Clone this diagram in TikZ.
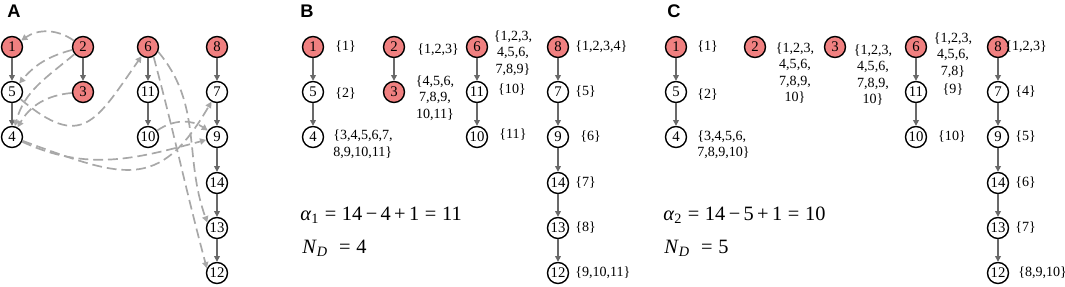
\documentclass[tikz,border=0pt]{standalone}
\usepackage{fontspec}
\setmainfont{Liberation Serif}
\newfontfamily\panelfont{Liberation Sans}
\usetikzlibrary{arrows.meta}
\definecolor{nodered}{RGB}{240,128,128}
\definecolor{treegray}{RGB}{105,105,105}
\definecolor{linkgray}{RGB}{168,168,168}
\tikzset{
  wnode/.style={circle,draw=black,line width=1pt,fill=white,minimum size=5.25mm,inner sep=0pt,font=\fontsize{10.5}{12}\selectfont},
  rnode/.style={wnode,fill=nodered},
  tree/.style={draw=treegray,line width=1.1pt,-{Triangle[length=4pt,width=4pt]}},
  link/.style={draw=linkgray,line width=1.2pt,dash pattern=on 7pt off 3.5pt,-{Triangle[length=4.4pt,width=4.4pt]}},
  lbl/.style={font=\fontsize{10}{11.7}\selectfont,inner sep=0pt,align=center},
  eqn/.style={font=\fontsize{14.5}{17}\selectfont,inner sep=0pt,anchor=west},
  panel/.style={font=\fontsize{13}{15}\selectfont\panelfont\bfseries,inner sep=0pt}
}
\begin{document}
\begin{tikzpicture}[x=0.25mm,y=0.25mm]
\useasboundingbox (0,0) rectangle (1065,-287);
% panel letters
\node[panel] (pa) at (14,-11) {A};
\node[panel] (pb) at (307,-11) {B};
\node[panel] (pc) at (674,-11) {C};

% panel A
\foreach \n/\x/\y in {1/12/47,2/83/47,3/83/92,6/148/47,8/217/47}
  \node[rnode] (a\n) at (\x,-\y) {\n};
\foreach \n/\x/\y in {5/12/92,4/12/137,11/148/92,10/148/137,7/217/92,9/217/137,14/217/183,13/217/228,12/217/273}
  \node[wnode] (a\n) at (\x,-\y) {\n};

% panel B
\foreach \n/\x/\y in {1/313/47,2/394/47,3/394/92,6/477/47,8/558/47}
  \node[rnode] (b\n) at (\x,-\y) {\n};
\foreach \n/\x/\y in {5/313/92,4/313/137,11/477/92,10/477/137,7/558/92,9/558/137,14/558/183,13/558/228,12/558/273}
  \node[wnode] (b\n) at (\x,-\y) {\n};

% panel C
\foreach \n/\x/\y in {1/676/47,2/755/47,3/835/47,6/916/47,8/998/47}
  \node[rnode] (c\n) at (\x,-\y) {\n};
\foreach \n/\x/\y in {5/676/92,4/676/137,11/916/92,10/916/137,7/998/92,9/998/137,14/998/183,13/998/228,12/998/273}
  \node[wnode] (c\n) at (\x,-\y) {\n};

% tree edges
\foreach \p in {a,b,c}
  \foreach \u/\v in {1/5,5/4,6/11,11/10,8/7,7/9,9/14,14/13,13/12}
    \draw[tree] (\p\u) -- (\p\v);
\draw[tree] (a2) -- (a3);
\draw[tree] (b2) -- (b3);

% dashed links in A
\draw[link] (a2) to[out=145,in=35] (a1);
\draw[link] (a2) to[out=195,in=50] (a5);
\draw[link] (a2) to[out=220,in=75] (a4);
\draw[link] (a3) to[out=185,in=60] (a4);
\draw[link] (a5) to[out=-40,in=235,looseness=1.6] (a6);
\draw[link] (a10) to[out=35,in=145] (a9);
\draw[link] (a4) to[out=-25,in=195] (a9);
\draw[link] (a4) to[out=-20,in=240,looseness=1.4] (a7);
\draw[link] (a6.-25) to[out=-50,in=110] (a13.150);
\draw[link] (a6.-60) to[out=-75,in=105] (a12.155);

% labels B
\node[lbl,anchor=west] (lb1) at (335,-47) {\{1\}};
\node[lbl,anchor=west] (lb5) at (335,-94) {\{2\}};
\node[lbl,anchor=west,align=left] (lb4) at (333,-144) {\{3,4,5,6,7,\\8,9,10,11\}};
\node[lbl,anchor=west] (lb2) at (417,-50) {\{1,2,3\}};
\node[lbl] (lb3) at (435,-98) {\{4,5,6,\\7,8,9,\\10,11\}};
\node[lbl] (lb6) at (513,-53) {\{1,2,3,\\4,5,6,\\7,8,9\}};
\node[lbl] (lb11) at (512,-90) {\{10\}};
\node[lbl] (lb10) at (513,-135) {\{11\}};
\node[lbl,anchor=west] (lb8) at (575,-47) {\{1,2,3,4\}};
\node[lbl,anchor=west] (lb7) at (575,-92) {\{5\}};
\node[lbl,anchor=west] (lb9) at (580,-137) {\{6\}};
\node[lbl,anchor=west] (lb14) at (575,-183) {\{7\}};
\node[lbl,anchor=west] (lb13) at (575,-228) {\{8\}};
\node[lbl,anchor=west] (lb12) at (575,-273) {\{9,10,11\}};
\node[eqn] (eb1) at (300,-215) {\textit{α}\textsubscript{1}\;=\;14\,−\,4\,+\,1\;=\;11};
\node[eqn] (eb2) at (302,-248) {\textit{N}\textsubscript{\textit{D}}\;\;=\;4};

% labels C
\node[lbl,anchor=west] (lc1) at (697,-47) {\{1\}};
\node[lbl,anchor=west] (lc5) at (697,-95) {\{2\}};
\node[lbl,anchor=west,align=left] (lc4) at (697,-144.5) {\{3,4,5,6,\\7,8,9,10\}};
\node[lbl] (lc2) at (795,-73) {\{1,2,3,\\4,5,6,\\7,8,9,\\10\}};
\node[lbl] (lc3) at (873,-75) {\{1,2,3,\\4,5,6,\\7,8,9,\\10\}};
\node[lbl] (lc6) at (953,-55) {\{1,2,3,\\4,5,6,\\7,8\}};
\node[lbl] (lc11) at (953,-90) {\{9\}};
\node[lbl] (lc10) at (952,-137) {\{10\}};
\node[lbl,anchor=west] (lc8) at (1005,-47) {\{1,2,3\}};
\node[lbl,anchor=west] (lc7) at (1015,-92) {\{4\}};
\node[lbl,anchor=west] (lc9) at (1015,-137) {\{5\}};
\node[lbl,anchor=west] (lc14) at (1015,-183) {\{6\}};
\node[lbl,anchor=west] (lc13) at (1015,-228) {\{7\}};
\node[lbl,anchor=west] (lc12) at (1018,-273) {\{8,9,10\}};
\node[eqn] (ec1) at (663,-215) {\textit{α}\textsubscript{2}\;=\;14\,−\,5\,+\,1\;=\;10};
\node[eqn] (ec2) at (664,-248) {\textit{N}\textsubscript{\textit{D}}\;\;=\;5};
\end{tikzpicture}
\end{document}
